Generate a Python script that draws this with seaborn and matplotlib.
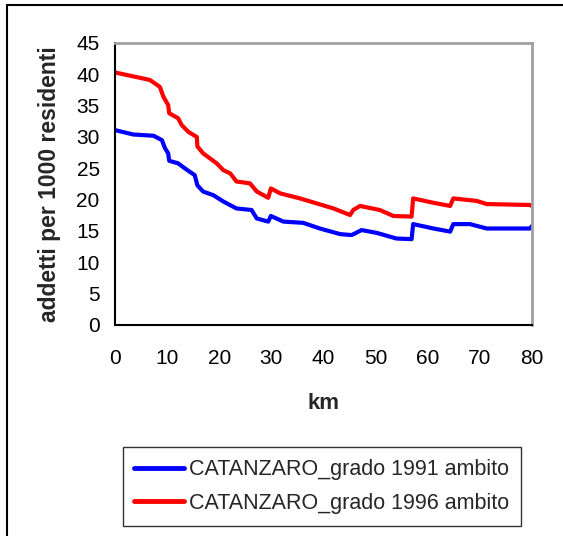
import matplotlib
matplotlib.use("Agg")
import matplotlib.pyplot as plt
import seaborn as sns
import pandas as pd
from matplotlib.lines import Line2D

km_1991 = [0, 3.5, 7.4, 9.0, 9.6, 10.2, 10.4, 12.1, 13.4, 15.3, 15.8, 16.9, 18.9, 20.8, 23.3,
           26.2, 27.2, 29.4, 29.9, 32.3, 36.1, 39.3, 43.2, 45.4, 47.3, 50.2, 54.0, 56.9, 57.2,
           61.1, 64.3, 64.9, 68.1, 71.3, 79.6, 80]
val_1991 = [31.1, 30.4, 30.2, 29.5, 28.2, 27.4, 26.2, 25.8, 25.0, 23.9, 22.3, 21.3, 20.7, 19.7, 18.6,
            18.35, 17.0, 16.5, 17.4, 16.5, 16.3, 15.4, 14.5, 14.35, 15.15, 14.7, 13.8, 13.7, 16.1,
            15.4, 14.9, 16.1, 16.1, 15.4, 15.4, 15.8]

km_1996 = [0, 6.7, 8.6, 9.3, 10.2, 10.4, 12.1, 12.8, 14.1, 15.7, 15.8, 16.9, 19.5, 20.8, 22.1,
           23.3, 25.9, 27.2, 29.4, 29.9, 31.7, 35.5, 38.7, 41.9, 45.1, 45.7, 47.0, 50.8, 53.4,
           56.9, 57.2, 61.1, 64.3, 64.9, 69.4, 71.3, 79.6, 80]
val_1996 = [40.3, 39.1, 38.0, 36.4, 35.1, 33.8, 33.0, 31.9, 30.8, 30.0, 28.5, 27.4, 25.8, 24.7, 24.2,
            22.9, 22.6, 21.3, 20.3, 21.8, 21.0, 20.2, 19.4, 18.6, 17.55, 18.35, 19.0, 18.35, 17.4,
            17.3, 20.2, 19.5, 19.0, 20.2, 19.8, 19.3, 19.15, 19.0]

series_names = ["CATANZARO_grado 1991 ambito", "CATANZARO_grado 1996 ambito"]
series_colors = ["#0000FF", "#FF0000"]
x_ticks = [0, 10, 20, 30, 40, 50, 60, 70, 80]
y_ticks = [0, 5, 10, 15, 20, 25, 30, 35, 40, 45]
x_label = "km"
y_label = "addetti per 1000 residenti"

sns.set_style("white")
plt.rcParams["font.family"] = ["Liberation Sans", "DejaVu Sans"]

df = pd.concat([
    pd.DataFrame({"km": km_1991, "val": val_1991, "serie": series_names[0]}),
    pd.DataFrame({"km": km_1996, "val": val_1996, "serie": series_names[1]}),
], ignore_index=True)

W, H = 563, 536
fig = plt.figure(figsize=(W / 100, H / 100), dpi=100)
ax = fig.add_axes([115 / W, 1 - 325 / H, (532 - 115) / W, (325 - 43) / H])

sns.lineplot(data=df, x="km", y="val", hue="serie", palette=dict(zip(series_names, series_colors)),
             linewidth=3, ax=ax, legend=False, sort=False, estimator=None)

ax.set_xlim(0, 80)
ax.set_ylim(0, 45)
ax.set_xticks(x_ticks)
ax.set_yticks(y_ticks)
ax.tick_params(axis="both", labelsize=15, length=6, width=1.2, direction="out", colors="black")
ax.tick_params(axis="x", pad=11)
ax.tick_params(axis="y", pad=5)
ax.set_xlabel(x_label, fontsize=16, fontweight="bold", labelpad=18)
ax.set_ylabel(y_label, fontsize=16.5, fontweight="bold", labelpad=11)

for s in ["left", "bottom"]:
    ax.spines[s].set_color("black")
    ax.spines[s].set_linewidth(1.5)
for s in ["top", "right"]:
    ax.spines[s].set_color("#a0a0a0")
    ax.spines[s].set_linewidth(2)
    ax.spines[s].set_visible(True)

handles = [Line2D([0], [0], color=c, lw=3.5) for c in series_colors]
leg = fig.legend(handles, series_names, loc="center",
                 bbox_to_anchor=(322 / W, 1 - 486.5 / H), fontsize=15.5,
                 frameon=True, fancybox=False, edgecolor="black", handlelength=2.3,
                 handletextpad=0.25, borderpad=0.55, labelspacing=0.6, borderaxespad=0)
leg.get_frame().set_linewidth(1)

# figure border (top and left)
fig.add_artist(Line2D([7 / W, 7 / W], [0, 1 - 5 / H], transform=fig.transFigure, color="black", lw=1.5))
fig.add_artist(Line2D([7 / W, 1], [1 - 5 / H, 1 - 5 / H], transform=fig.transFigure, color="black", lw=1.5))

fig.savefig("out.png", dpi=100)
